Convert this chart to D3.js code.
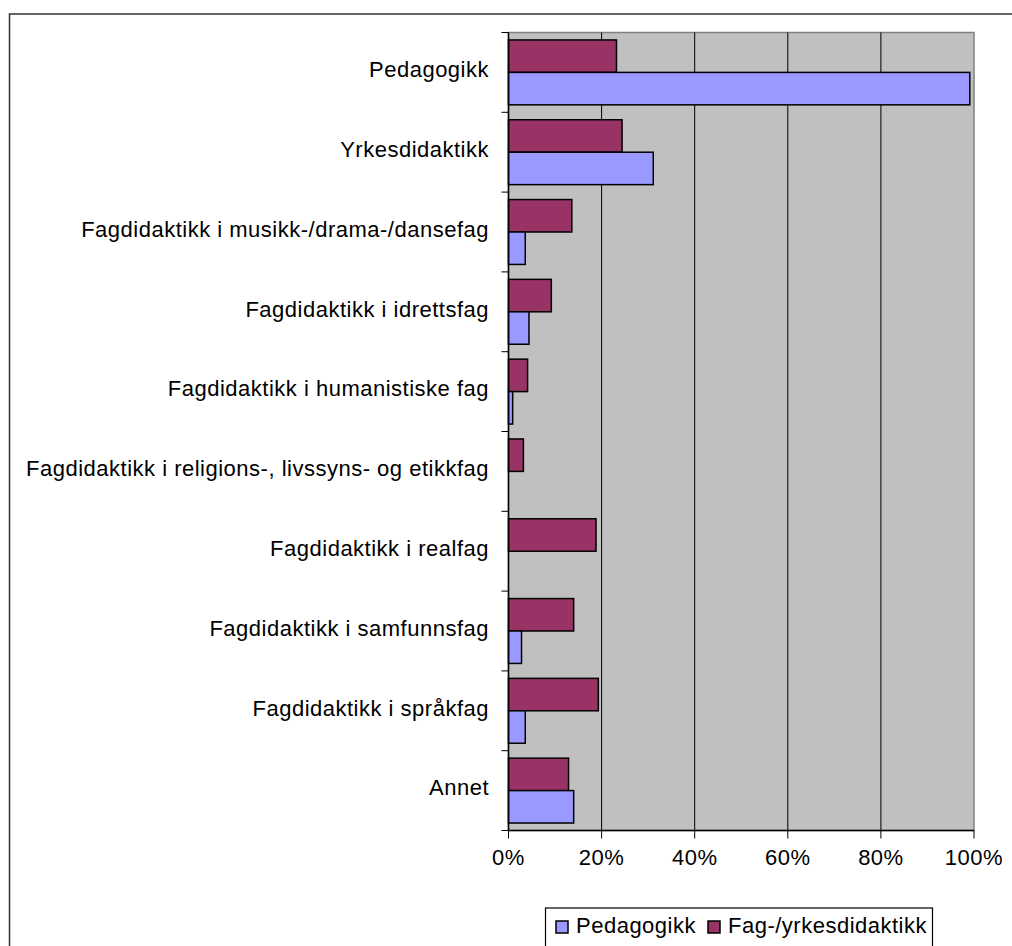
<!DOCTYPE html>
<html>
<head>
<meta charset="utf-8">
<script src="https://cdn.jsdelivr.net/npm/d3@7"></script>
<style>
  html, body { margin: 0; padding: 0; background: #fff; }
  svg { display: block; }
  text { font-family: "Liberation Sans", Arial, sans-serif; fill: #000; }
</style>
</head>
<body>
<svg id="chart" width="1012" height="946"></svg>
<script>
const categories = [
  "Pedagogikk",
  "Yrkesdidaktikk",
  "Fagdidaktikk i musikk-/drama-/dansefag",
  "Fagdidaktikk i idrettsfag",
  "Fagdidaktikk i humanistiske fag",
  "Fagdidaktikk i religions-, livssyns- og etikkfag",
  "Fagdidaktikk i realfag",
  "Fagdidaktikk i samfunnsfag",
  "Fagdidaktikk i språkfag",
  "Annet"
];
const seriesNames = ["Pedagogikk", "Fag-/yrkesdidaktikk"];
const pedagogikk = [0.991, 0.311, 0.036, 0.044, 0.009, 0, 0, 0.028, 0.036, 0.140];
const fagYrkesdidaktikk = [0.232, 0.244, 0.136, 0.092, 0.041, 0.032, 0.188, 0.140, 0.193, 0.129];
const xTicks = [0, 0.2, 0.4, 0.6, 0.8, 1.0];
const colors = { "Pedagogikk": "#9999FF", "Fag-/yrkesdidaktikk": "#993366" };

(function () {
const svg = d3.select("#chart");
const pLeft = 508.5, pRight = 974, pTop = 32.5, pBottom = 830.5;
const fontSize = 22, letterSp = 0.5;

// outer chart frame (extends past the window)
svg.append("rect")
  .attr("x", 9.5).attr("y", 14).attr("width", 1100).attr("height", 1100)
  .attr("fill", "#fff").attr("stroke", "#333").attr("stroke-width", 1.5);

const x = d3.scaleLinear().domain([0, 1]).range([pLeft, pRight]);
const y = d3.scaleBand().domain(categories).range([pTop, pBottom]).paddingInner(0).paddingOuter(0);
const inner = d3.scaleBand().domain(["Fag-/yrkesdidaktikk", "Pedagogikk"])
  .range([0, y.bandwidth()]).paddingInner(0).paddingOuter(0.23);

// plot background
svg.append("rect")
  .attr("x", pLeft).attr("y", pTop).attr("width", pRight - pLeft).attr("height", pBottom - pTop)
  .attr("fill", "#C0C0C0").attr("stroke", "#808080").attr("stroke-width", 1.5);

// gridlines
svg.append("g").selectAll("line").data(xTicks.filter(d => d > 0 && d < 1)).join("line")
  .attr("x1", d => x(d)).attr("x2", d => x(d))
  .attr("y1", pTop).attr("y2", pBottom)
  .attr("stroke", "#000").attr("stroke-width", 1);

// bars
const data = categories.map((c, i) => ({
  cat: c,
  vals: [
    { s: "Fag-/yrkesdidaktikk", v: fagYrkesdidaktikk[i] },
    { s: "Pedagogikk", v: pedagogikk[i] }
  ]
}));
const groups = svg.append("g").selectAll("g").data(data).join("g")
  .attr("transform", d => `translate(0,${y(d.cat)})`);
groups.selectAll("rect").data(d => d.vals.filter(v => v.v > 0)).join("rect")
  .attr("x", x(0))
  .attr("y", d => inner(d.s))
  .attr("width", d => x(d.v) - x(0))
  .attr("height", inner.bandwidth())
  .attr("fill", d => colors[d.s])
  .attr("stroke", "#000").attr("stroke-width", 1.5);

// y axis
const yAxisG = svg.append("g");
yAxisG.append("line").attr("x1", pLeft).attr("x2", pLeft).attr("y1", pTop).attr("y2", pBottom)
  .attr("stroke", "#000").attr("stroke-width", 1.5);
const bounds = categories.map(c => y(c)).concat([pBottom]);
yAxisG.selectAll("line.tick").data(bounds).join("line").attr("class", "tick")
  .attr("x1", pLeft - 7).attr("x2", pLeft).attr("y1", d => d).attr("y2", d => d)
  .attr("stroke", "#000").attr("stroke-width", 1);
yAxisG.selectAll("text").data(categories).join("text")
  .attr("x", 489).attr("y", d => y(d) + y.bandwidth() / 2)
  .attr("dy", "0.22em")
  .attr("text-anchor", "end")
  .style("font-size", fontSize + "px")
  .style("letter-spacing", letterSp + "px")
  .text(d => d);

// x axis
const xAxisG = svg.append("g");
xAxisG.append("line").attr("x1", pLeft).attr("x2", pRight).attr("y1", pBottom).attr("y2", pBottom)
  .attr("stroke", "#000").attr("stroke-width", 1.5);
xAxisG.selectAll("line.tick").data(xTicks).join("line").attr("class", "tick")
  .attr("x1", d => x(d)).attr("x2", d => x(d)).attr("y1", pBottom).attr("y2", pBottom + 8)
  .attr("stroke", "#000").attr("stroke-width", 1);
const fmt = d3.format(".0%");
xAxisG.selectAll("text").data(xTicks).join("text")
  .attr("x", d => x(d)).attr("y", 865)
  .attr("text-anchor", "middle")
  .style("font-size", fontSize + "px")
  .style("letter-spacing", letterSp + "px")
  .text(d => fmt(d));

// legend
const lg = svg.append("g");
lg.append("rect").attr("x", 545.5).attr("y", 908).attr("width", 387).attr("height", 60)
  .attr("fill", "#fff").attr("stroke", "#000").attr("stroke-width", 1.2);
const legendX = [556, 708];
seriesNames.forEach((s, i) => {
  lg.append("rect").attr("x", legendX[i]).attr("y", 921).attr("width", 12).attr("height", 12)
    .attr("fill", colors[s]).attr("stroke", "#000").attr("stroke-width", 1.5);
  lg.append("text").attr("x", legendX[i] + 20).attr("y", 932.5)
    .style("font-size", fontSize + "px")
    .style("letter-spacing", letterSp + "px")
    .text(s);
});
})();
</script>
</body>
</html>
